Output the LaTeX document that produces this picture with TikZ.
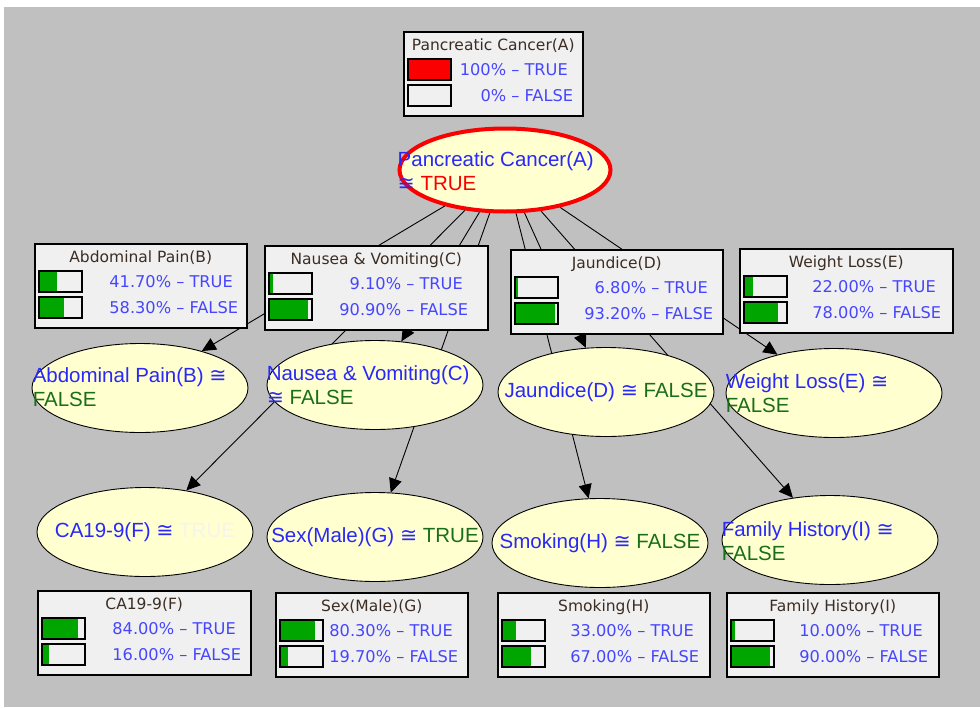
\documentclass[tikz,border=0pt]{standalone}
\usepackage{fontspec}
\setmainfont{Liberation Sans}
\newfontfamily\tabfont{DejaVu Sans}
\newfontfamily\symfont{DejaVu Sans}
\usetikzlibrary{calc,arrows.meta,shapes.geometric}

\definecolor{panel}{RGB}{192,192,192}
\definecolor{boxbg}{RGB}{240,240,240}
\definecolor{nodebg}{RGB}{255,255,208}
\definecolor{labblue}{RGB}{40,40,250}
\definecolor{pctblue}{RGB}{70,70,255}
\definecolor{valgreen}{RGB}{25,110,25}
\definecolor{valred}{RGB}{250,0,0}
\definecolor{valpale}{RGB}{245,245,235}
\definecolor{bargreen}{RGB}{0,165,0}
\definecolor{titleink}{RGB}{60,45,35}

\pgfdeclarelayer{back}
\pgfdeclarelayer{edges}
\pgfsetlayers{back,edges,main}

\pgfkeys{/pgf/number format/pct/.style={fixed,fixed zerofill,precision=2,assume math mode=true},
         /pgf/number format/whole/.style={fixed,precision=0,assume math mode=true}}

\newcommand{\apx}{{\symfont ≅}}

% probability box: name, left, top, width, title, P(TRUE) in %, end of number column, number format, bar colour
\newcommand{\probbox}[9]{%
  \node[probframe,minimum width=#4pt,anchor=north west] (#1) at (#2,#3) {};
  \node[probtitle] (#1t) at ($(#1.north)+(0,19)$) {#5};
  \pgfmathsetmacro{\pfalse}{100-#6}
  \fill[#9] ($(#1.north west)+(5,28)$) rectangle +({43*#6/100},21);
  \fill[#9] ($(#1.north west)+(5,54)$) rectangle +({43*\pfalse/100},21);
  \draw[barframe] ($(#1.north west)+(5,28)$) rectangle +(43,21);
  \draw[barframe] ($(#1.north west)+(5,54)$) rectangle +(43,21);
  \node[probtext] (#1p) at ($(#1.north west)+(#7,38.5)$) {\llap{\pgfmathprintnumber[#8]{#6}\%}~–~TRUE};
  \node[probtext] (#1q) at ($(#1.north west)+(#7,64.5)$) {\llap{\pgfmathprintnumber[#8]{\pfalse}\%}~–~FALSE};
}

\begin{document}
\begin{tikzpicture}[x=1pt,y=-1pt,
  bnode/.style={ellipse,draw=black,line width=0.9pt,fill=nodebg,minimum width=216pt,minimum height=89pt,inner sep=0pt},
  evnode/.style={bnode,draw=valred,line width=4pt,minimum width=211pt,minimum height=83pt},
  lab/.style={inner sep=0pt,align=left,font=\fontsize{20.5}{24}\selectfont,text=labblue},
  link/.style={line width=0.9pt,-{Triangle[length=14pt,width=13pt]}},
  probframe/.style={draw=black,line width=1.5pt,fill=boxbg,minimum height=84pt,inner sep=0pt},
  probtitle/.style={anchor=base,inner sep=0pt,font=\tabfont\fontsize{15.5}{18}\selectfont,text=titleink},
  probtext/.style={anchor=west,inner sep=0pt,font=\tabfont\fontsize{16.2}{18}\selectfont,text=pctblue},
  barframe/.style={draw=black,line width=1.3pt}]
  \useasboundingbox (0,0) rectangle (980,707);
  \begin{pgfonlayer}{back}
    \fill[white] (0,0) rectangle (980,707);
    \fill[panel] (4,7) rectangle (980,707);
  \end{pgfonlayer}

  % network nodes
  \node[evnode] (A) at (505,170) {};
  \node[bnode] (B) at (140,388) {};
  \node[bnode] (C) at (375,385) {};
  \node[bnode] (D) at (606,392) {};
  \node[bnode] (E) at (834,393) {};
  \node[bnode] (F) at (145,532) {};
  \node[bnode] (G) at (375,537) {};
  \node[bnode] (H) at (600,543) {};
  \node[bnode] (I) at (830,540) {};

  % (base of a two-line label is its second line)
  \node[lab,anchor=base west] (Al) at ($(A.west)+(0,20)$) {Pancreatic Cancer(A)\\\apx{} \textcolor{valred}{TRUE}};
  \node[lab,anchor=base west] (Bl) at ($(B.west)+(1,18)$) {Abdominal Pain(B) \apx\\\textcolor{valgreen}{FALSE}};
  \node[lab,anchor=base west] (Cl) at ($(C.west)+(0,19)$) {Nausea \& Vomiting(C)\\\apx{} \textcolor{valgreen}{FALSE}};
  \node[lab] (Dl) at (D) {Jaundice(D) \apx{} \textcolor{valgreen}{FALSE}};
  \node[lab,anchor=base west] (El) at ($(E.west)+(0,19)$) {Weight Loss(E) \apx\\\textcolor{valgreen}{FALSE}};
  \node[lab] (Fl) at (F) {CA19-9(F) \apx{} \textcolor{valpale}{TRUE}};
  \node[lab] (Gl) at (G) {Sex(Male)(G) \apx{} \textcolor{valgreen}{TRUE}};
  \node[lab] (Hl) at (H) {Smoking(H) \apx{} \textcolor{valgreen}{FALSE}};
  \node[lab,anchor=base west] (Il) at ($(I.west)+(0,20)$) {Family History(I) \apx\\\textcolor{valgreen}{FALSE}};

  % arcs from the evidence node
  \begin{pgfonlayer}{edges}
    \foreach \c in {B,C,D,E,F,G,H,I}
      \draw[link] (A) -- (\c);
  \end{pgfonlayer}

  % belief bars
  \probbox{pA}{403}{31}{179}{Pancreatic Cancer(A)}{100}{103}{whole}{valred}
  \probbox{pB}{34}{243}{212}{Abdominal Pain(B)}{41.7}{137}{pct}{bargreen}
  \probbox{pC}{264}{245}{223}{Nausea \& Vomiting(C)}{9.1}{137}{pct}{bargreen}
  \probbox{pD}{510}{249}{212}{Jaundice(D)}{6.8}{136}{pct}{bargreen}
  \probbox{pE}{739}{248}{213}{Weight Loss(E)}{22}{135}{pct}{bargreen}
  \probbox{pF}{37}{590}{213}{CA19-9(F)}{84}{137}{pct}{bargreen}
  \probbox{pG}{275}{592}{192}{Sex(Male)(G)}{80.3}{116}{pct}{bargreen}
  \probbox{pH}{497}{592}{212}{Smoking(H)}{33}{135}{pct}{bargreen}
  \probbox{pI}{726}{592}{212}{Family History(I)}{10}{135}{pct}{bargreen}
\end{tikzpicture}
\end{document}
